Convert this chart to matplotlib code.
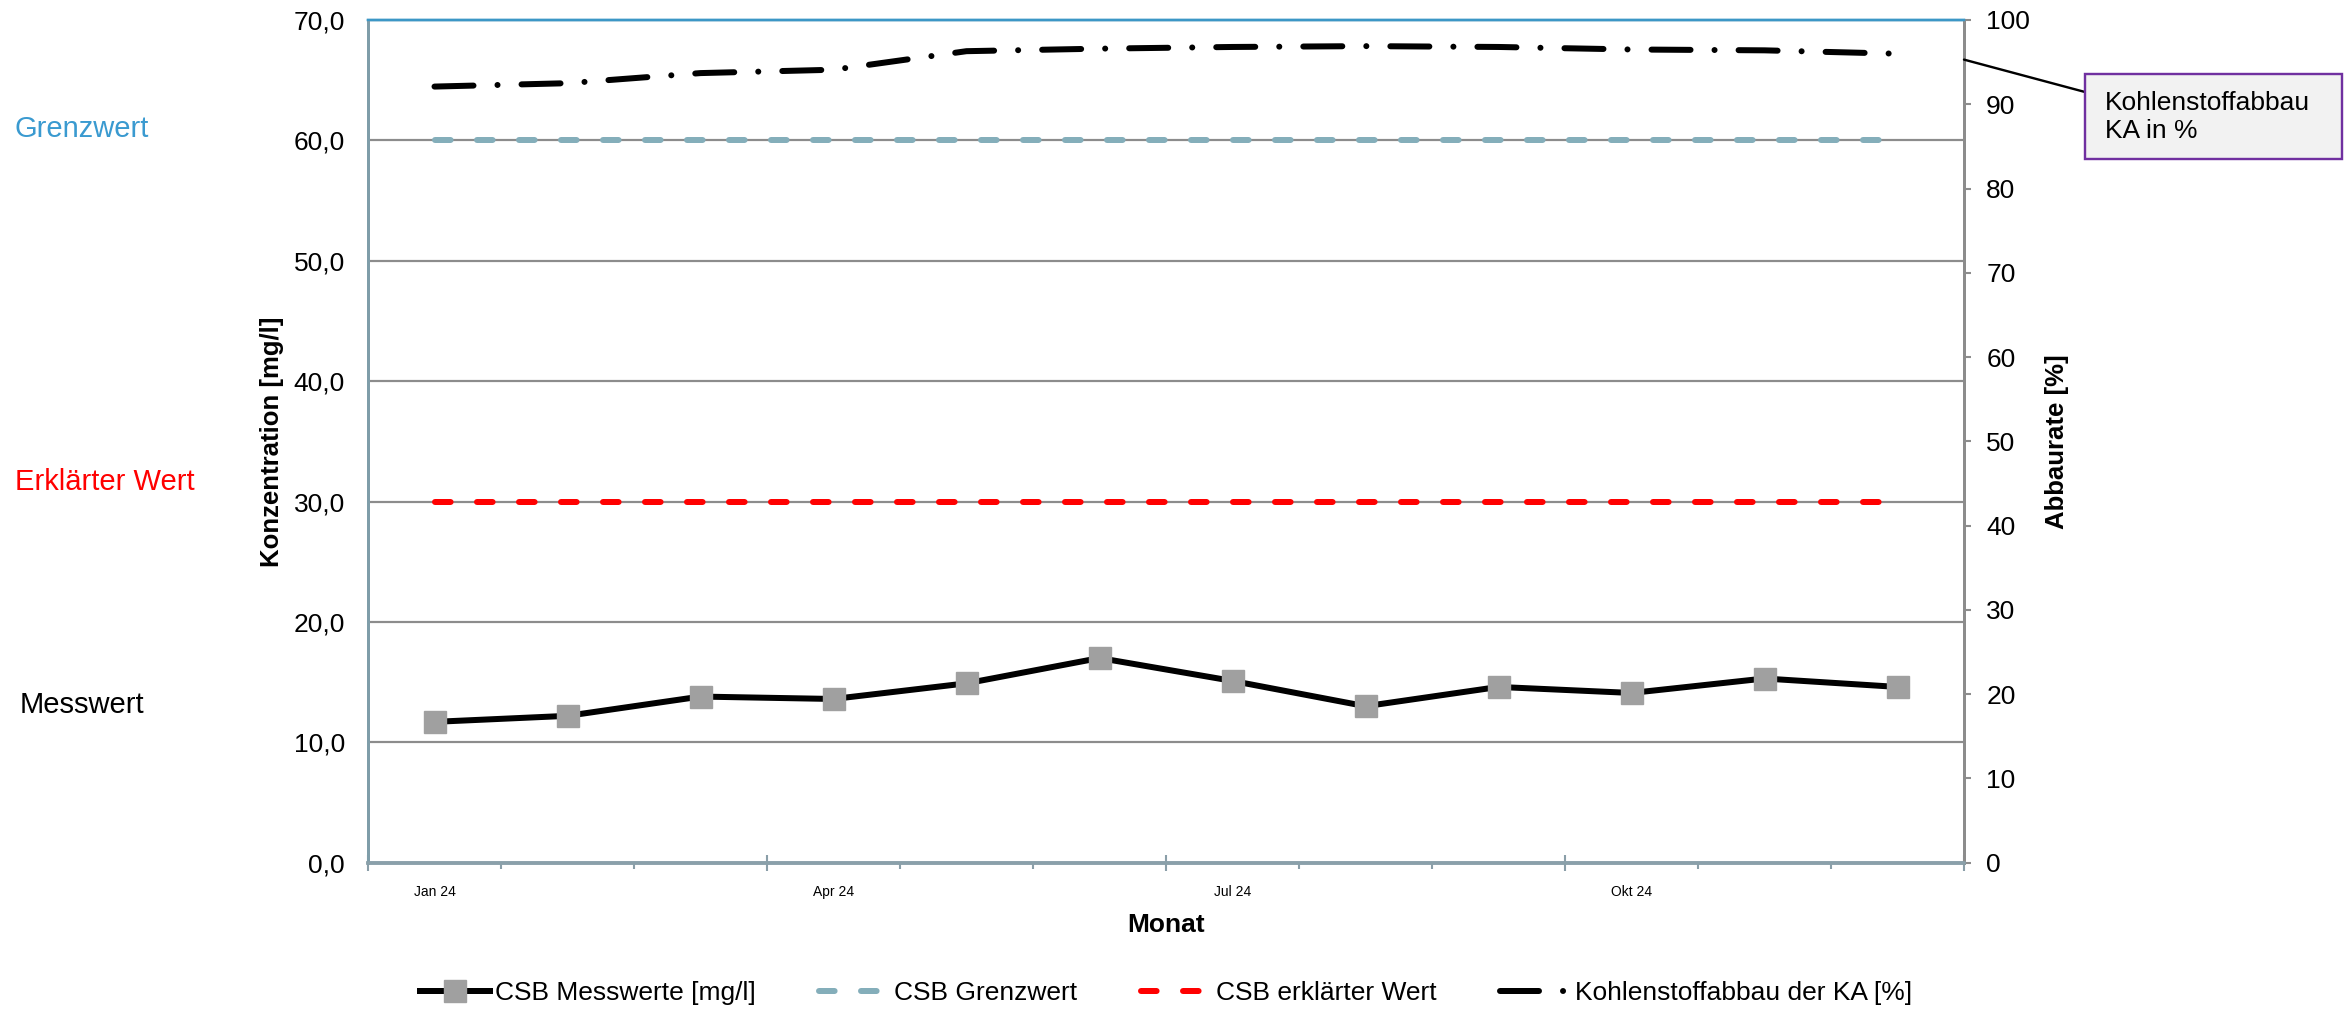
import matplotlib
matplotlib.use("Agg")
import matplotlib.pyplot as plt
import matplotlib.transforms as mtransforms
from matplotlib.patches import Rectangle

plt.rcParams['font.family'] = ['Liberation Sans', 'DejaVu Sans']

# ---- data ----
months = ["Jan", "Feb", "Mär", "Apr", "Mai", "Jun", "Jul", "Aug", "Sep", "Okt", "Nov", "Dez"]
tick_labels = ["Jan 24", "Apr 24", "Jul 24", "Okt 24"]
tick_label_pos = [0, 3, 6, 9]
csb_mess = [11.7, 12.2, 13.8, 13.6, 14.9, 17.0, 15.1, 13.0, 14.6, 14.1, 15.3, 14.6]
csb_grenz = [60.0] * 12
csb_erkl = [30.0] * 12
c_abbau = [92.1, 92.5, 93.7, 94.1, 96.3, 96.6, 96.8, 96.9, 96.8, 96.5, 96.4, 96.0]

W, H, DPI = 2344, 1011, 100
fig = plt.figure(figsize=(W / DPI, H / DPI), dpi=DPI)


def fx(px):
    return px / W


def fy(py):
    return 1 - py / H


ax = fig.add_axes([fx(368), fy(862.7), fx(1964) - fx(368), fy(20) - fy(862.7)])
ax2 = ax.twinx()

x = list(range(len(months)))
px2pt = 72 / DPI

# concentration series
l_mess, = ax.plot(x, csb_mess, color='black', lw=6 * px2pt, marker='s',
                  markersize=22 * px2pt, markerfacecolor='#A0A0A0',
                  markeredgecolor='#A0A0A0', label='CSB Messwerte [mg/l]', zorder=5)
l_grenz, = ax.plot(x, csb_grenz, color='#84AEBA', lw=6 * px2pt, dash_capstyle='round',
                   linestyle=(0, (2.6, 4.4)), label='CSB Grenzwert', zorder=4)
l_erkl, = ax.plot(x, csb_erkl, color='#FF0000', lw=6 * px2pt, dash_capstyle='round',
                  linestyle=(0, (2.6, 4.4)), label='CSB erklärter Wert', zorder=4)

# degradation rate on the secondary axis
l_abbau, = ax2.plot(x, c_abbau, color='black', lw=6 * px2pt, dash_capstyle='round',
                    linestyle=(0, (6.5, 4.0, 0.01, 4.0)),
                    label='Kohlenstoffabbau der KA [%]')

ax.set_xlim(-0.5, 11.5)
ax.set_ylim(0, 70)
ax2.set_ylim(0, 100)

# left axis
ax.set_yticks(range(0, 71, 10))
ax.set_yticklabels([f"{v:.1f}".replace('.', ',') for v in range(0, 71, 10)])
ax.tick_params(axis='y', length=0, pad=16.5, labelsize=19)
ax.yaxis.grid(True, color='#8C8C8C', lw=2.2 * px2pt)
ax.set_axisbelow(True)

# bottom axis: month boundaries, long ticks per quarter
ax.set_xticks([-0.5, 2.5, 5.5, 8.5, 11.5])
ax.set_xticklabels([])
ax.set_xticks([v - 0.5 for v in range(13)], minor=True)
ax.tick_params(axis='x', which='major', direction='inout', length=12, width=1.5,
               color='#8A9EA8')
ax.tick_params(axis='x', which='minor', direction='out', length=4, width=1.5,
               color='#8A9EA8')
label_tf = mtransforms.blended_transform_factory(ax.transData, fig.transFigure)
for pos, lab in zip(tick_label_pos, tick_labels):
    ax.text(pos, fy(892), lab, transform=label_tf, ha='center', va='center', fontsize=10)

# right axis
ax2.set_yticks(range(0, 101, 10))
ax2.tick_params(axis='y', direction='out', length=5, width=1.5, color='#8C8C8C',
                pad=11, labelsize=19)

# spines
for a in (ax, ax2):
    a.spines['top'].set_color('#3C97C6')
    a.spines['top'].set_linewidth(2.4 * px2pt)
    a.spines['left'].set_color('#7F9DA9')
    a.spines['left'].set_linewidth(3 * px2pt)
    a.spines['bottom'].set_color('#8AA0AA')
    a.spines['bottom'].set_linewidth(3.5 * px2pt)
    a.spines['right'].set_color('#8C8C8C')
    a.spines['right'].set_linewidth(3 * px2pt)

# axis titles
fig.text(fx(272), fy(442), 'Konzentration [mg/l]', rotation=90, ha='center', va='center',
         fontsize=18.5, fontweight='bold')
fig.text(fx(2057), fy(442), 'Abbaurate [%]', rotation=90, ha='center', va='center',
         fontsize=18.5, fontweight='bold')
fig.text(fx(1166), fy(925), 'Monat', ha='center', va='center', fontsize=19,
         fontweight='bold')

# series names on the left
fig.text(fx(15), fy(129), 'Grenzwert', ha='left', va='center', fontsize=21, color='#3A9AD0')
fig.text(fx(15), fy(482), 'Erklärter Wert', ha='left', va='center', fontsize=21,
         color='#FF0000')
fig.text(fx(20), fy(705), 'Messwert', ha='left', va='center', fontsize=21, color='black')

# callout for the degradation rate
fig.patches.append(Rectangle((fx(2085), fy(159)), fx(2342) - fx(2085), fy(74) - fy(159),
                             transform=fig.transFigure, facecolor='#F2F2F2',
                             edgecolor='#7030A0', lw=2.4 * px2pt, zorder=3))
fig.text(fx(2105), fy(117), 'Kohlenstoffabbau\nKA in %', ha='left', va='center',
         fontsize=19, linespacing=1.2, zorder=4)
ax2.annotate('', xy=(1.0, 95.3), xycoords=('axes fraction', 'data'),
             xytext=(2085, H - 92), textcoords='figure pixels',
             arrowprops=dict(arrowstyle='-', color='black', lw=2.4 * px2pt,
                             shrinkA=0, shrinkB=0),
             annotation_clip=False)

# legend
fig.legend(handles=[l_mess, l_grenz, l_erkl, l_abbau], loc='center',
           bbox_to_anchor=(fx(1166), fy(993)), ncol=4, frameon=False, fontsize=19,
           handlelength=2.65, handletextpad=0.2, columnspacing=2.4, numpoints=1)

fig.savefig('out.png', dpi=DPI)
